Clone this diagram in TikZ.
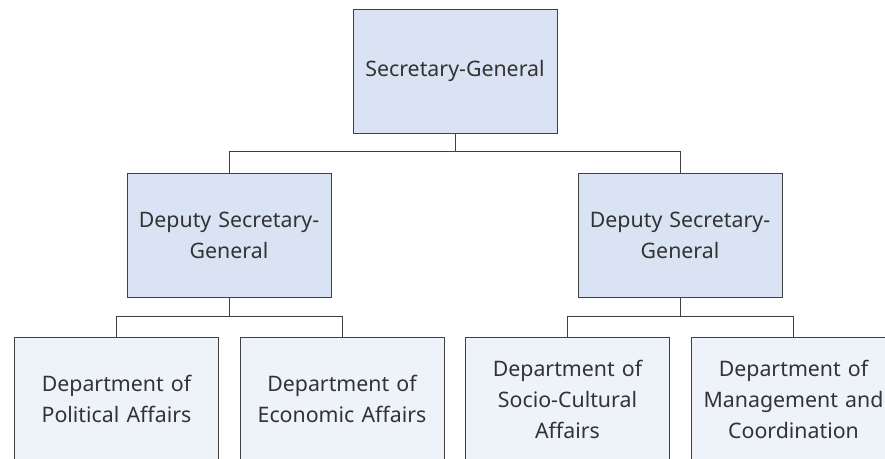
\documentclass[tikz,border=0pt]{standalone}
\usepackage{fontspec}
\setmainfont{Noto Sans}
\definecolor{boxline}{HTML}{404040}
\definecolor{topfill}{HTML}{DAE3F3}
\definecolor{deptfill}{HTML}{EEF3FA}
\definecolor{textgray}{HTML}{333333}

\begin{document}
\begin{tikzpicture}[x=0.75pt, y=-0.75pt,
    unit/.style={draw=boxline, line width=0.75pt, fill=topfill, text=textgray,
        minimum width=204*0.75pt, minimum height=124*0.75pt, inner sep=0pt,
        align=center, text width=196*0.75pt,
        font=\fontsize{16pt}{23.25pt}\selectfont},
    dept/.style={unit, fill=deptfill},
    link/.style={draw=boxline, line width=0.75pt}]
    \useasboundingbox (0,0) rectangle (885,458);
    \clip (0,0) rectangle (885,458);

    \node[unit] (sg) at (455,71) {Secretary-General};

    \node[unit] (dsg1) at (229,235) {Deputy Secretary-\\General};
    \node[unit] (dsg2) at (680,235) {Deputy Secretary-\\General};

    \node[dept] (dpa)  at (116.5,399) {Department of\\Political Affairs};
    \node[dept] (dea)  at (342,399)   {Department of\\Economic Affairs};
    \node[dept] (dsca) at (567.5,399) {Department of\\Socio-Cultural\\Affairs};
    \node[dept] (dmc)  at (793.5,399) {Department of\\Management and\\Coordination};

    % top level
    \draw[link] (sg.south) -- ++(0,18) -| (dsg1.north);
    \draw[link] (sg.south) -- ++(0,18) -| (dsg2.north);
    % deputies
    \draw[link] (dsg1.south) -- ++(0,19) -| (dpa.north);
    \draw[link] (dsg1.south) -- ++(0,19) -| (dea.north);
    \draw[link] (dsg2.south) -- ++(0,19) -| (dsca.north);
    \draw[link] (dsg2.south) -- ++(0,19) -| (dmc.north);

\end{tikzpicture}
\end{document}
